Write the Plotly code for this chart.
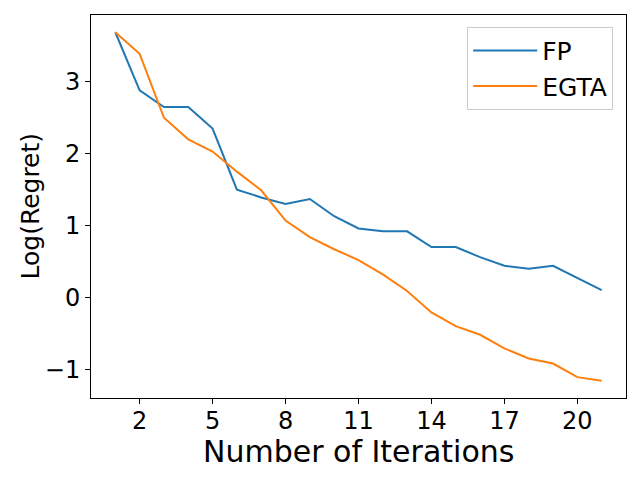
import plotly.graph_objects as go

iterations = list(range(1, 22))
fp = [3.69, 2.88, 2.65, 2.65, 2.35, 1.50, 1.39, 1.30, 1.37, 1.13, 0.96,
      0.92, 0.92, 0.70, 0.70, 0.56, 0.44, 0.40, 0.44, 0.27, 0.10]
egta = [3.69, 3.39, 2.50, 2.20, 2.03, 1.75, 1.49, 1.07, 0.84, 0.67, 0.52,
        0.32, 0.09, -0.21, -0.40, -0.52, -0.71, -0.85, -0.92, -1.11, -1.16]
series_names = ["FP", "EGTA"]
x_ticks = [2, 5, 8, 11, 14, 17, 20]
y_ticks = [-1, 0, 1, 2, 3]
x_title = "Number of Iterations"
y_title = "Log(Regret)"

font = "DejaVu Sans"
fig = go.Figure()
fig.add_trace(go.Scatter(x=iterations, y=fp, mode="lines", name=series_names[0],
                         line=dict(color="#1f77b4", width=2)))
fig.add_trace(go.Scatter(x=iterations, y=egta, mode="lines", name=series_names[1],
                         line=dict(color="#ff7f0e", width=2)))

axis_common = dict(showline=True, linecolor="black", linewidth=1, mirror=True,
                   ticks="outside", ticklen=5, tickwidth=1, tickcolor="black",
                   showgrid=False, zeroline=False, automargin=False,
                   tickfont=dict(family=font, size=24, color="black"))

fig.update_layout(
    width=632, height=472,
    margin=dict(l=83, r=14, t=7, b=82, autoexpand=False),
    paper_bgcolor="white", plot_bgcolor="white",
    font=dict(family=font, color="black"),
    xaxis=dict(range=[0, 22], tickvals=x_ticks, ticklabelstandoff=-4, **axis_common),
    yaxis=dict(range=[-1.4, 3.93], tickvals=y_ticks, **axis_common),
    legend=dict(x=0.976, y=0.969, xanchor="right", yanchor="top",
                bgcolor="rgba(255,255,255,0.8)", bordercolor="#cccccc", borderwidth=1,
                itemwidth=64,
                font=dict(family=font, size=25, color="black")),
    showlegend=True,
    annotations=[
        dict(text=x_title, xref="paper", yref="paper", x=0.5, y=-0.14,
             xanchor="center", yanchor="middle", showarrow=False,
             font=dict(family=font, size=30, color="black")),
        dict(text=y_title, xref="paper", yref="paper", x=-0.114, y=0.5,
             xanchor="center", yanchor="middle", showarrow=False, textangle=-90,
             font=dict(family=font, size=25, color="black")),
    ],
)

fig.write_html("out.html")
